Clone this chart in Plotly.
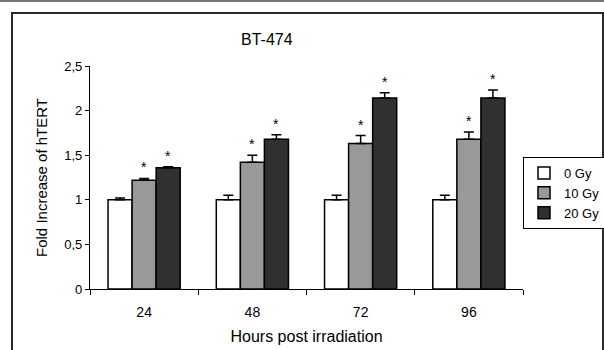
import plotly.graph_objects as go

hours = ["24", "48", "72", "96"]
series_names = ["0 Gy", "10 Gy", "20 Gy"]
values_0gy = [1.0, 1.0, 1.0, 1.0]
values_10gy = [1.22, 1.42, 1.63, 1.68]
values_20gy = [1.36, 1.68, 2.14, 2.14]
err_0gy = [0.02, 0.05, 0.05, 0.05]
err_10gy = [0.02, 0.08, 0.09, 0.08]
err_20gy = [0.01, 0.05, 0.06, 0.09]
sig_10gy = [True, True, True, True]
sig_20gy = [True, True, True, True]
ytick_vals = [0, 0.5, 1, 1.5, 2, 2.5]
ytick_text = ["0", "0,5", "1", "1,5", "2", "2,5"]

colors = ["#ffffff", "#999a97", "#303030"]
vals = [values_0gy, values_10gy, values_20gy]
errs = [err_0gy, err_10gy, err_20gy]
sigs = [[False] * 4, sig_10gy, sig_20gy]

FONT = "Liberation Sans, Arial, sans-serif"
W, H = 604, 350
L, R, T, B = 90, 81, 66, 61
PW, PH = W - L - R, H - T - B

def px_x(px):
    return (px - L) / PW

def px_y(py):
    return (H - B - py) / PH

fig = go.Figure()
for name, v, e, c in zip(series_names, vals, errs, colors):
    fig.add_trace(go.Bar(
        x=hours, y=v, name=name, legendgroup=name,
        marker=dict(color=c, line=dict(color="#000000", width=1.5)),
        error_y=dict(type="data", array=e, symmetric=False, arrayminus=[0] * len(e),
                     color="#000000", thickness=1.5, width=5),
    ))

# bar geometry: 4 categories, group fills 2/3 of a category, 3 bars per group
bar_px = PW / len(hours) * (2 / 3) / 3
annotations = []
for i, (v, e, s) in enumerate(zip(vals, errs, sigs)):
    for j, h in enumerate(hours):
        if s[j]:
            annotations.append(dict(
                x=j, y=v[j] + e[j], xref="x", yref="y", text="*",
                showarrow=False, xshift=(i - 1) * bar_px, yanchor="bottom", yshift=1,
                font=dict(size=14, color="#000000", family=FONT),
            ))

annotations.append(dict(x=px_x(267), y=px_y(39), xref="paper", yref="paper",
                        text="BT-474", showarrow=False,
                        font=dict(size=16, color="#000", family=FONT),
                        xanchor="center", yanchor="middle"))

fig.update_layout(
    template="none",
    width=W, height=H,
    margin=dict(l=L, r=R, t=T, b=B, pad=0),
    paper_bgcolor="#ffffff", plot_bgcolor="#ffffff",
    font=dict(family=FONT, color="#000000", size=13),
    barmode="group", bargap=1 / 3, bargroupgap=0,
    showlegend=True,
    legend=dict(xref="container", yref="container",
                x=523 / W, y=1 - 157 / H, xanchor="left", yanchor="top",
                bordercolor="#000000", borderwidth=1, bgcolor="#ffffff",
                font=dict(size=13, family=FONT), itemwidth=30, tracegroupgap=10,
                traceorder="normal"),
    xaxis=dict(type="category", range=[-0.5, len(hours) - 0.5], automargin=False,
               showline=True, linecolor="#000", linewidth=1.2, ticks="outside",
               tickson="boundaries", ticklen=5, tickcolor="#000", tickwidth=1.2,
               showgrid=False, zeroline=False, ticklabelstandoff=10,
               tickfont=dict(size=14),
               title=dict(text="Hours post irradiation", font=dict(size=16), standoff=11)),
    yaxis=dict(range=[0, 2.5], automargin=False, showline=True, linecolor="#000",
               linewidth=1.2, ticks="outside", ticklen=4, tickcolor="#000", tickwidth=1.2,
               showgrid=False, zeroline=False,
               tickvals=ytick_vals, ticktext=ytick_text, tickfont=dict(size=13),
               title=dict(text="Fold Increase of hTERT", font=dict(size=15), standoff=12)),
    annotations=annotations,
    shapes=[
        dict(type="rect", xref="paper", yref="paper",
             x0=px_x(12), x1=px_x(603), y0=px_y(400), y1=px_y(13),
             line=dict(color="#2a2a2a", width=2)),
        dict(type="line", xref="paper", yref="paper",
             x0=px_x(0), x1=px_x(W), y0=px_y(1), y1=px_y(1),
             line=dict(color="#777777", width=2)),
    ],
)

# the page body has a default 8px margin; remove it so the figure fills the window
fig.write_html("out.html", config={"displayModeBar": False},
               post_script="document.body.style.margin='0';")
